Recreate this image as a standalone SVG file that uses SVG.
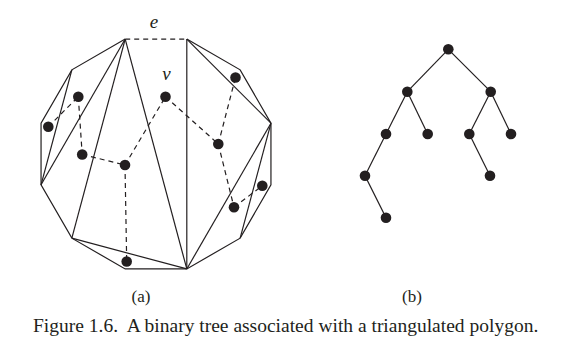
<svg xmlns="http://www.w3.org/2000/svg" width="572" height="351" viewBox="0 0 572 351">
<style>
.edge{fill:none;stroke:#231f20;stroke-width:1.2;stroke-linejoin:miter}
.dash{fill:none;stroke:#231f20;stroke-width:1.2;stroke-dasharray:5,4}
.dot{fill:#231f20}
.lbl{font-family:"Liberation Serif","Times New Roman",serif;fill:#231f20}
</style>
<rect width="572" height="351" fill="#ffffff"/>
<g id="polygon">
<polyline class="edge" points="186.8,39.05 240.15,69.85 270.95,123.2 270.95,184.8 240.15,238.15 186.8,268.95 125.2,268.95 71.85,238.15 41.05,184.8 41.05,123.2 71.85,69.85 125.2,39.05"/>
<line class="dash" x1="125.2" y1="39.05" x2="186.8" y2="39.05"/>
<line class="edge" x1="125.2" y1="39.05" x2="41.05" y2="184.8"/>
<line class="edge" x1="125.2" y1="39.05" x2="71.85" y2="238.15"/>
<line class="edge" x1="125.2" y1="39.05" x2="186.8" y2="268.95"/>
<line class="edge" x1="71.85" y1="69.85" x2="41.05" y2="184.8"/>
<line class="edge" x1="71.85" y1="238.15" x2="186.8" y2="268.95"/>
<line class="edge" x1="186.8" y1="39.05" x2="186.8" y2="268.95"/>
<line class="edge" x1="186.8" y1="39.05" x2="270.95" y2="123.2"/>
<line class="edge" x1="270.95" y1="123.2" x2="186.8" y2="268.95"/>
<line class="edge" x1="270.95" y1="123.2" x2="240.15" y2="238.15"/>
<text class="lbl" x="154" y="28" font-size="19" font-style="italic" text-anchor="middle">e</text>
<text class="lbl" x="166.5" y="80" font-size="19" font-style="italic" text-anchor="middle">v</text>
</g>
<g id="dual-connectors">
<line class="dash" x1="48.3" y1="126.7" x2="78.3" y2="96.7"/>
<line class="dash" x1="78.3" y1="96.7" x2="82.2" y2="154.5"/>
<line class="dash" x1="82.2" y1="154.5" x2="125" y2="165"/>
<line class="dash" x1="125" y1="165" x2="126.7" y2="261.5"/>
<line class="dash" x1="125" y1="165" x2="165.5" y2="96.7"/>
<line class="dash" x1="165.5" y1="96.7" x2="218.3" y2="144"/>
<line class="dash" x1="218.3" y1="144" x2="235.5" y2="77.5"/>
<line class="dash" x1="218.3" y1="144" x2="234" y2="207.3"/>
<line class="dash" x1="234" y1="207.3" x2="262.3" y2="185.7"/>
</g>
<g id="dual-nodes">
<circle id="nA" class="dot" cx="48.3" cy="126.7" r="5.3"/>
<circle id="nB" class="dot" cx="78.3" cy="96.7" r="5.3"/>
<circle id="nC" class="dot" cx="82.2" cy="154.5" r="5.3"/>
<circle id="nD" class="dot" cx="125" cy="165" r="5.3"/>
<circle id="nE" class="dot" cx="126.7" cy="261.5" r="5.3"/>
<circle id="nV" class="dot" cx="165.5" cy="96.7" r="5.3"/>
<circle id="nF" class="dot" cx="218.3" cy="144" r="5.3"/>
<circle id="nG" class="dot" cx="235.5" cy="77.5" r="5.3"/>
<circle id="nH" class="dot" cx="234" cy="207.3" r="5.3"/>
<circle id="nI" class="dot" cx="262.3" cy="185.7" r="5.3"/>
</g>
<g id="tree-connectors">
<line class="edge" x1="448.3" y1="49.3" x2="407.3" y2="91.7"/>
<line class="edge" x1="448.3" y1="49.3" x2="490.7" y2="91.7"/>
<line class="edge" x1="407.3" y1="91.7" x2="386" y2="134"/>
<line class="edge" x1="407.3" y1="91.7" x2="427.7" y2="134"/>
<line class="edge" x1="490.7" y1="91.7" x2="469.3" y2="134"/>
<line class="edge" x1="490.7" y1="91.7" x2="511" y2="134"/>
<line class="edge" x1="386" y1="134" x2="365" y2="175.7"/>
<line class="edge" x1="469.3" y1="134" x2="490" y2="175.7"/>
<line class="edge" x1="365" y1="175.7" x2="386" y2="217.7"/>
</g>
<g id="tree-nodes">
<circle id="t-root" class="dot" cx="448.3" cy="49.3" r="5.3"/>
<circle id="t-L" class="dot" cx="407.3" cy="91.7" r="5.3"/>
<circle id="t-R" class="dot" cx="490.7" cy="91.7" r="5.3"/>
<circle id="t-LL" class="dot" cx="386" cy="134" r="5.3"/>
<circle id="t-LR" class="dot" cx="427.7" cy="134" r="5.3"/>
<circle id="t-RL" class="dot" cx="469.3" cy="134" r="5.3"/>
<circle id="t-RR" class="dot" cx="511" cy="134" r="5.3"/>
<circle id="t-LLL" class="dot" cx="365" cy="175.7" r="5.3"/>
<circle id="t-RLR" class="dot" cx="490" cy="175.7" r="5.3"/>
<circle id="t-LLLR" class="dot" cx="386" cy="217.7" r="5.3"/>
</g>
<g id="captions">
<text class="lbl" x="141" y="302" font-size="17" text-anchor="middle">(a)</text>
<text class="lbl" x="412" y="302" font-size="17" text-anchor="middle">(b)</text>
<text class="lbl" x="33" y="332" font-size="19.5" xml:space="preserve">Figure 1.6.  A binary tree associated with a triangulated polygon.</text>
</g>
</svg>
